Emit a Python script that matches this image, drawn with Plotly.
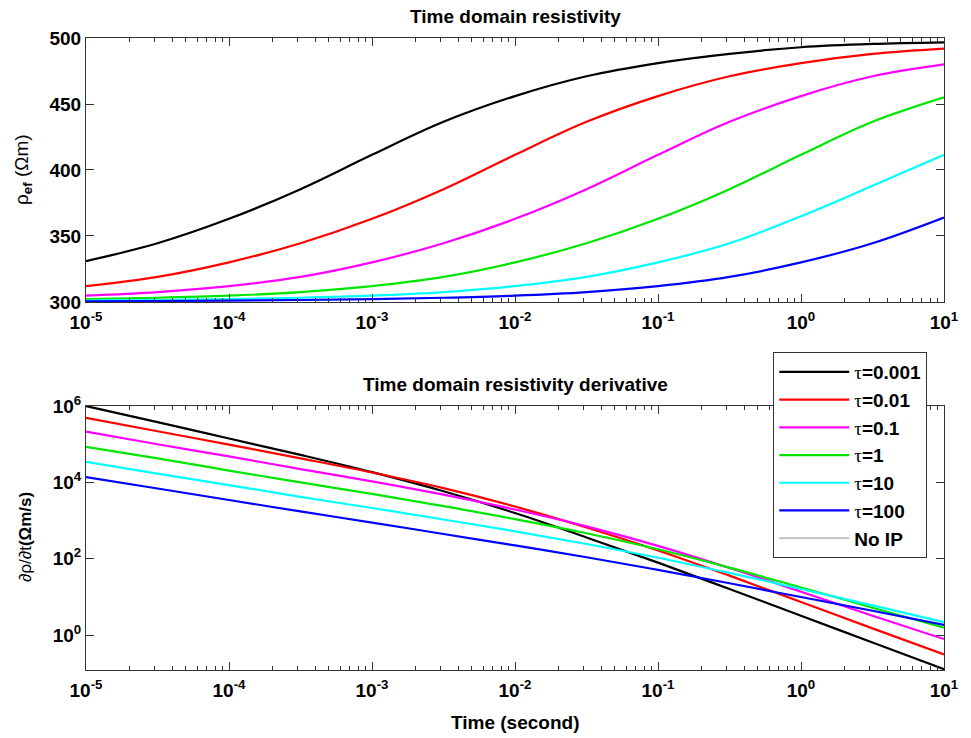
import plotly.graph_objects as go

# ---- data ----
time_s = [1e-5, 3.162e-5, 1e-4, 3.162e-4, 1e-3, 3.162e-3, 1e-2, 3.162e-2,
          0.1, 0.3162, 1.0, 3.162, 10.0]

series_names = ["τ=0.001", "τ=0.01", "τ=0.1", "τ=1", "τ=10", "τ=100"]
series_colors = ["#000000", "#ff0000", "#ff00ff", "#00e600", "#00ffff", "#0000ff"]

# effective resistivity (Ohm m)
rho_tau_0001 = [331, 344.5, 363, 385.5, 411.5, 436.5, 456, 471, 481, 488, 493, 495.5, 496.7]
rho_tau_001 = [312, 319, 330, 344.5, 363, 385.5, 411.5, 436.5, 456, 471, 481, 488, 492]
rho_tau_01 = [304.8, 307.5, 312, 319, 330, 344.5, 363, 385.5, 411.5, 436.5, 456, 471, 480]
rho_tau_1 = [302.2, 303.2, 304.8, 307.5, 312, 319, 330, 344.5, 363, 385.5, 411.5, 436.5, 455]
rho_tau_10 = [301.0, 301.5, 302.2, 303.2, 304.8, 307.5, 312, 319, 330, 344.5, 365, 388, 411.5]
rho_tau_100 = [300.5, 300.7, 301.0, 301.5, 302.2, 303.2, 304.8, 307.5, 312, 319, 330, 344.5, 364]

# resistivity derivative (Ohm m / s)
drho_tau_0001 = [1.0e6, 3.80e5, 1.41e5, 5.25e4, 1.86e4, 5.89e3, 1.58e3, 363, 79.4, 16.2, 3.24, 0.646, 0.129]
drho_tau_001 = [4.90e5, 2.19e5, 9.77e4, 4.27e4, 1.82e4, 7.08e3, 2.34e3, 661, 166, 36.3, 7.41, 1.51, 0.316]
drho_tau_01 = [2.14e5, 1.0e5, 4.79e4, 2.24e4, 1.07e4, 4.79e3, 1.95e3, 708, 219, 57.5, 13.8, 3.24, 0.794]
drho_tau_1 = [8.51e4, 4.27e4, 2.04e4, 1.0e4, 5.01e3, 2.40e3, 1.10e3, 468, 178, 58.9, 17.8, 5.25, 1.58]
drho_tau_10 = [3.47e4, 1.70e4, 8.51e3, 4.17e3, 2.14e3, 1.07e3, 525, 245, 107, 42.7, 16.2, 6.03, 2.19]
drho_tau_100 = [1.38e4, 6.92e3, 3.47e3, 1.74e3, 891, 447, 224, 110, 51.3, 22.9, 10.0, 4.37, 1.86]

rho_series = [rho_tau_0001, rho_tau_001, rho_tau_01, rho_tau_1, rho_tau_10, rho_tau_100]
drho_series = [drho_tau_0001, drho_tau_001, drho_tau_01, drho_tau_1, drho_tau_10, drho_tau_100]

x_tick_vals = [1e-5, 1e-4, 1e-3, 1e-2, 1e-1, 1, 10]
x_tick_text = ["10<sup>-5</sup>", "10<sup>-4</sup>", "10<sup>-3</sup>", "10<sup>-2</sup>",
               "10<sup>-1</sup>", "10<sup>0</sup>", "10<sup>1</sup>"]
y1_tick_vals = [300, 350, 400, 450, 500]
y2_tick_vals = [1, 100, 1e4, 1e6]
y2_tick_text = ["10<sup>0</sup>", "10<sup>2</sup>", "10<sup>4</sup>", "10<sup>6</sup>"]

minor_x = [k * 10.0 ** e for e in range(-5, 1) for k in range(2, 10)]

FONT = "Liberation Sans, Arial, sans-serif"
AXC = "#333333"

fig = go.Figure()

for color, rho in zip(series_colors, rho_series):
    fig.add_trace(go.Scatter(x=time_s, y=rho, mode="lines", xaxis="x", yaxis="y",
                             line=dict(color=color, width=2.2, shape="spline", smoothing=1),
                             showlegend=False, hoverinfo="skip"))
for name, color, drho in zip(series_names, series_colors, drho_series):
    label = "<span style='font-family:Liberation Serif;font-weight:normal'>τ</span>" + name[1:]
    fig.add_trace(go.Scatter(x=time_s, y=drho, mode="lines", xaxis="x2", yaxis="y2",
                             name=label,
                             line=dict(color=color, width=2.2, shape="spline", smoothing=1),
                             hoverinfo="skip"))
fig.add_trace(go.Scatter(x=[None], y=[None], mode="lines", xaxis="x2", yaxis="y2",
                         name="No IP", line=dict(color="#c8c8c8", width=2.2)))

tickfont = dict(family=FONT, size=19, color="#000000", weight="bold")

def xaxis_common(anchor):
    return dict(type="log", range=[-5, 1], anchor=anchor, domain=[0, 1],
                tickmode="array", tickvals=x_tick_vals, ticktext=x_tick_text,
                ticks="inside", ticklen=8, tickcolor=AXC, tickwidth=1,
                showline=True, linecolor=AXC, linewidth=1, mirror="ticks",
                showgrid=False, zeroline=False, tickfont=tickfont,
                ticklabeloverflow="allow", ticklabelstandoff=3,
                minor=dict(tickmode="array", tickvals=minor_x, ticks="inside",
                           ticklen=4, tickcolor=AXC, tickwidth=1, showgrid=False))

fig.update_layout(
    width=971, height=738,
    margin=dict(l=86, r=13, t=38, b=68),
    paper_bgcolor="white", plot_bgcolor="white",
    xaxis=xaxis_common("y"),
    xaxis2=xaxis_common("y2"),
    yaxis=dict(range=[300, 500], domain=[0.5823, 1], anchor="x",
               tickmode="array", tickvals=y1_tick_vals,
               ticks="inside", ticklen=8, tickcolor=AXC,
               showline=True, linecolor=AXC, linewidth=1, mirror="ticks",
               showgrid=False, zeroline=False, tickfont=tickfont,
               ticklabeloverflow="allow"),
    yaxis2=dict(type="log", range=[-0.91, 6], domain=[0, 0.4177], anchor="x2",
                tickmode="array", tickvals=y2_tick_vals, ticktext=y2_tick_text,
                ticks="inside", ticklen=8, tickcolor=AXC,
                showline=True, linecolor=AXC, linewidth=1, mirror="ticks",
                showgrid=False, zeroline=False, tickfont=tickfont,
                ticklabeloverflow="allow"),
    legend=dict(x=0.801, y=0.503, xanchor="left", yanchor="top",
                bgcolor="white", bordercolor="#333333", borderwidth=1,
                font=dict(family=FONT, size=19, color="#000000", weight="bold"),
                itemwidth=70, tracegroupgap=0),
    showlegend=True,
)

def note(text, x, y, size, angle=0):
    fig.add_annotation(text=text, xref="paper", yref="paper", x=x, y=y,
                       xanchor="center", yanchor="middle", textangle=angle,
                       showarrow=False,
                       font=dict(family=FONT, size=size, color="#000000"))

# paper coordinates from pixel positions (plot area x 86..958, y 38..670)
note("<b>Time domain resistivity</b>", 0.5, (670 - 16) / 632, 19)
note("<b>Time domain resistivity derivative</b>", 0.5, (670 - 384) / 632, 19)
note("<b>Time (second)</b>", 0.5, (670 - 722) / 632, 19)
note("ρ<sub><b>ef</b></sub> (Ωm)", (22 - 86) / 872, (670 - 170) / 632, 19, -90)
note("∂ρ/∂t<b>(Ωm/s)</b>", (24 - 86) / 872, (670 - 537) / 632, 17, -90)

fig.write_html("out.html")
